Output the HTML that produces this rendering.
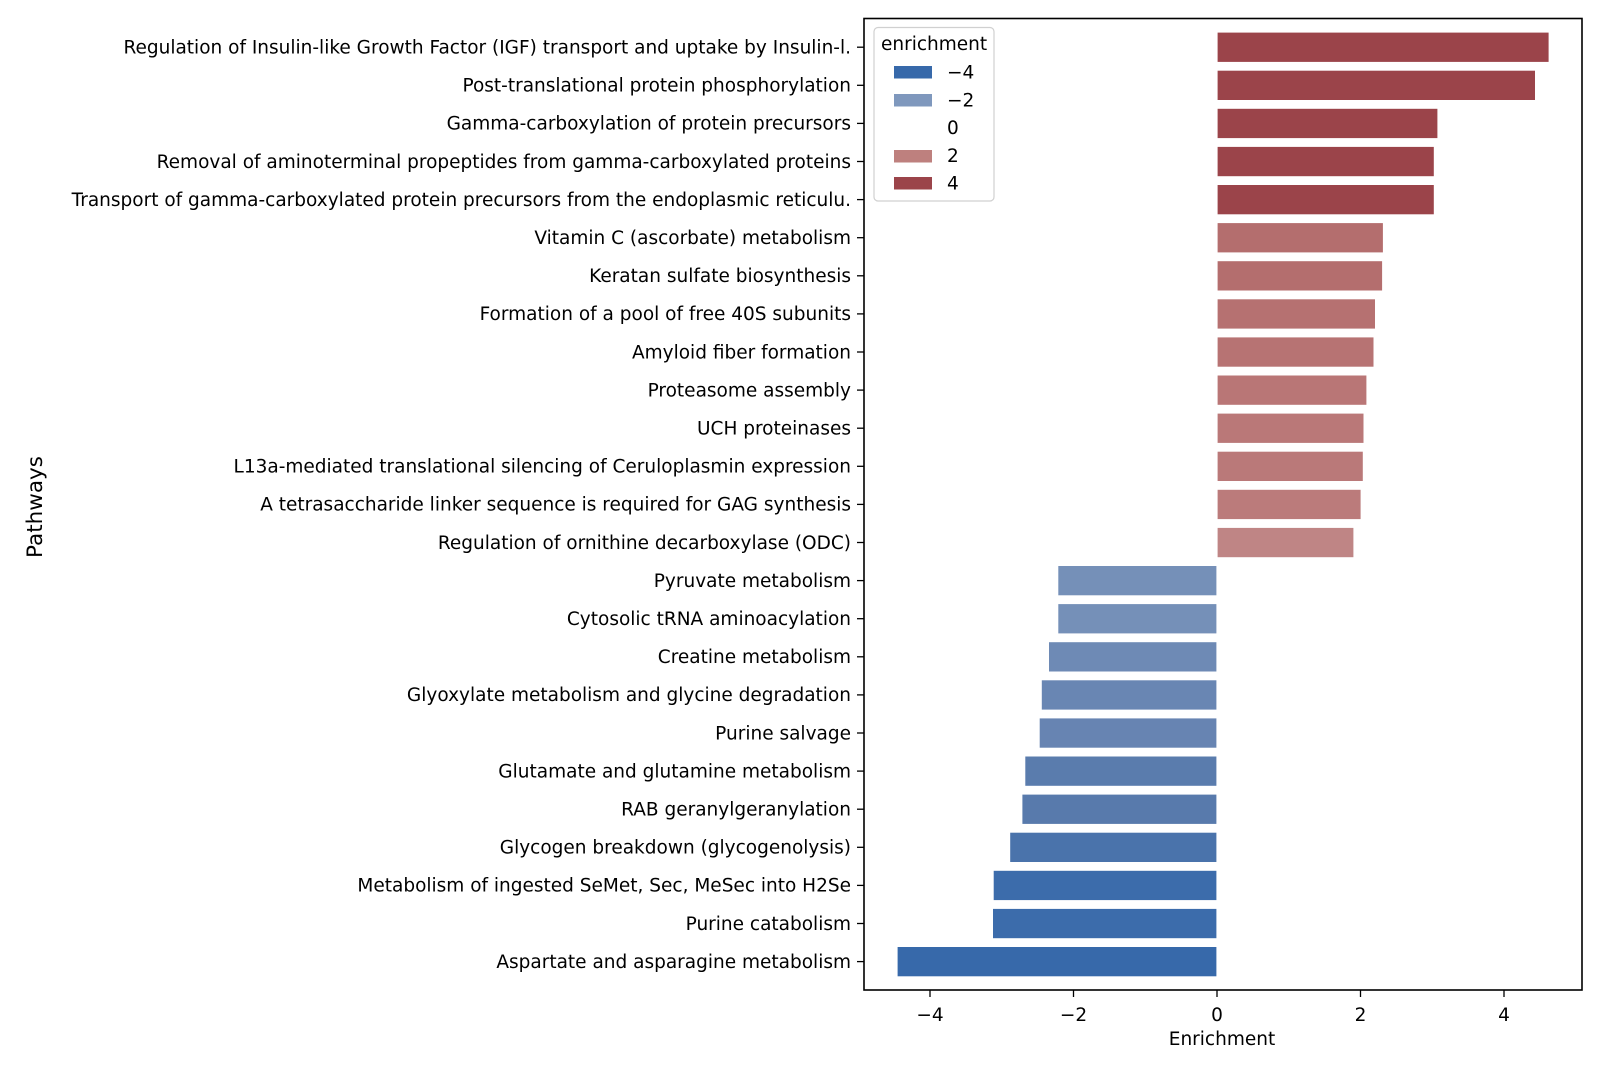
<!DOCTYPE html>
<html><head><meta charset="utf-8"><style>
html,body{margin:0;padding:0;background:#fff}
svg{display:block}
text{font-family:"DejaVu Sans","Liberation Sans",sans-serif;fill:#000}
</style></head><body>
<svg width="1600" height="1067" viewBox="0 0 1600 1067" xmlns="http://www.w3.org/2000/svg">
<g stroke="#fff" stroke-width="1.2">
<rect x="1217" y="32" width="332.2" height="30.5" fill="#9b444a"/>
<rect x="1217" y="70.1" width="318.6" height="30.5" fill="#9b444a"/>
<rect x="1217" y="108.2" width="221" height="30.5" fill="#9b444a"/>
<rect x="1217" y="146.3" width="217.4" height="30.5" fill="#9b444a"/>
<rect x="1217" y="184.4" width="217.4" height="30.5" fill="#9b444a"/>
<rect x="1217" y="222.5" width="166.5" height="30.5" fill="#b46e6e"/>
<rect x="1217" y="260.6" width="165.7" height="30.5" fill="#b46e6e"/>
<rect x="1217" y="298.7" width="158.6" height="30.5" fill="#b67171"/>
<rect x="1217" y="336.8" width="157.1" height="30.5" fill="#b77373"/>
<rect x="1217" y="374.9" width="150" height="30.5" fill="#b97676"/>
<rect x="1217" y="413" width="147.1" height="30.5" fill="#ba7878"/>
<rect x="1217" y="451.1" width="146.4" height="30.5" fill="#ba7979"/>
<rect x="1217" y="489.2" width="144.2" height="30.5" fill="#bb7b7b"/>
<rect x="1217" y="527.3" width="137" height="30.5" fill="#bf8585"/>
<rect x="1057.7" y="565.4" width="159.3" height="30.5" fill="#7590b8"/>
<rect x="1057.7" y="603.5" width="159.3" height="30.5" fill="#7590b8"/>
<rect x="1048.4" y="641.6" width="168.6" height="30.5" fill="#6e8ab5"/>
<rect x="1041.2" y="679.7" width="175.8" height="30.5" fill="#6986b3"/>
<rect x="1039.1" y="717.8" width="177.9" height="30.5" fill="#6784b2"/>
<rect x="1024.7" y="755.9" width="192.3" height="30.5" fill="#5a7cad"/>
<rect x="1021.8" y="794" width="195.2" height="30.5" fill="#587aac"/>
<rect x="1009.6" y="832.1" width="207.4" height="30.5" fill="#4a73ab"/>
<rect x="993.1" y="870.2" width="223.9" height="30.5" fill="#3c6cab"/>
<rect x="992.4" y="908.3" width="224.6" height="30.5" fill="#3c6cab"/>
<rect x="897" y="946.4" width="320" height="30.5" fill="#3769aa"/>
</g>
<rect x="864" y="18.5" width="718" height="971.5" fill="none" stroke="#000" stroke-width="1.6"/>
<g stroke="#000" stroke-width="1.3">
<line x1="930" y1="990" x2="930" y2="997"/><line x1="1073.5" y1="990" x2="1073.5" y2="997"/><line x1="1217" y1="990" x2="1217" y2="997"/><line x1="1360.5" y1="990" x2="1360.5" y2="997"/><line x1="1504" y1="990" x2="1504" y2="997"/>
</g>
<g font-size="18.5" text-anchor="middle">
<text x="930" y="1021">−4</text><text x="1073.5" y="1021">−2</text><text x="1217" y="1021">0</text><text x="1360.5" y="1021">2</text><text x="1504" y="1021">4</text>
<text x="1222" y="1045">Enrichment</text>
<text transform="translate(42,507) rotate(-90)" font-size="21.5">Pathways</text>
</g>
<g font-size="18.5" text-anchor="end">
<text x="851" y="53.5">Regulation of Insulin-like Growth Factor (IGF) transport and uptake by Insulin-l.</text>
<text x="851" y="91.6">Post-translational protein phosphorylation</text>
<text x="851" y="129.7">Gamma-carboxylation of protein precursors</text>
<text x="851" y="167.8">Removal of aminoterminal propeptides from gamma-carboxylated proteins</text>
<text x="851" y="205.9">Transport of gamma-carboxylated protein precursors from the endoplasmic reticulu.</text>
<text x="851" y="244">Vitamin C (ascorbate) metabolism</text>
<text x="851" y="282.1">Keratan sulfate biosynthesis</text>
<text x="851" y="320.2">Formation of a pool of free 40S subunits</text>
<text x="851" y="358.3">Amyloid fiber formation</text>
<text x="851" y="396.4">Proteasome assembly</text>
<text x="851" y="434.5">UCH proteinases</text>
<text x="851" y="472.6">L13a-mediated translational silencing of Ceruloplasmin expression</text>
<text x="851" y="510.7">A tetrasaccharide linker sequence is required for GAG synthesis</text>
<text x="851" y="548.8">Regulation of ornithine decarboxylase (ODC)</text>
<text x="851" y="586.9">Pyruvate metabolism</text>
<text x="851" y="625">Cytosolic tRNA aminoacylation</text>
<text x="851" y="663.1">Creatine metabolism</text>
<text x="851" y="701.2">Glyoxylate metabolism and glycine degradation</text>
<text x="851" y="739.3">Purine salvage</text>
<text x="851" y="777.4">Glutamate and glutamine metabolism</text>
<text x="851" y="815.5">RAB geranylgeranylation</text>
<text x="851" y="853.6">Glycogen breakdown (glycogenolysis)</text>
<text x="851" y="891.7">Metabolism of ingested SeMet, Sec, MeSec into H2Se</text>
<text x="851" y="929.8">Purine catabolism</text>
<text x="851" y="967.9">Aspartate and asparagine metabolism</text>
</g>
<g stroke="#000" stroke-width="1.3">
<line x1="857" x2="864" y1="47.2" y2="47.2"/><line x1="857" x2="864" y1="85.3" y2="85.3"/><line x1="857" x2="864" y1="123.4" y2="123.4"/><line x1="857" x2="864" y1="161.5" y2="161.5"/><line x1="857" x2="864" y1="199.6" y2="199.6"/><line x1="857" x2="864" y1="237.7" y2="237.7"/><line x1="857" x2="864" y1="275.8" y2="275.8"/><line x1="857" x2="864" y1="313.9" y2="313.9"/><line x1="857" x2="864" y1="352" y2="352"/><line x1="857" x2="864" y1="390.1" y2="390.1"/><line x1="857" x2="864" y1="428.2" y2="428.2"/><line x1="857" x2="864" y1="466.3" y2="466.3"/><line x1="857" x2="864" y1="504.4" y2="504.4"/><line x1="857" x2="864" y1="542.5" y2="542.5"/><line x1="857" x2="864" y1="580.6" y2="580.6"/><line x1="857" x2="864" y1="618.7" y2="618.7"/><line x1="857" x2="864" y1="656.8" y2="656.8"/><line x1="857" x2="864" y1="694.9" y2="694.9"/><line x1="857" x2="864" y1="733" y2="733"/><line x1="857" x2="864" y1="771.1" y2="771.1"/><line x1="857" x2="864" y1="809.2" y2="809.2"/><line x1="857" x2="864" y1="847.3" y2="847.3"/><line x1="857" x2="864" y1="885.4" y2="885.4"/><line x1="857" x2="864" y1="923.5" y2="923.5"/><line x1="857" x2="864" y1="961.6" y2="961.6"/>
</g>
<rect x="874" y="27.5" width="120" height="173.5" rx="4" fill="#fff" fill-opacity="0.85" stroke="#d0d0d0" stroke-width="1.2"/>
<g font-size="18.5">
<text x="881" y="50">enrichment</text>
<rect x="894" y="66" width="38" height="12.5" fill="#3769aa"/><text x="947" y="78.5">−4</text>
<rect x="894" y="94" width="38" height="12.5" fill="#7f98bd"/><text x="947" y="106.5">−2</text>
<text x="947" y="134">0</text>
<rect x="894" y="150" width="38" height="12.5" fill="#be807e"/><text x="947" y="162">2</text>
<rect x="894" y="177" width="38" height="12.5" fill="#9b444a"/><text x="947" y="189.5">4</text>
</g>
</svg>
</body></html>
